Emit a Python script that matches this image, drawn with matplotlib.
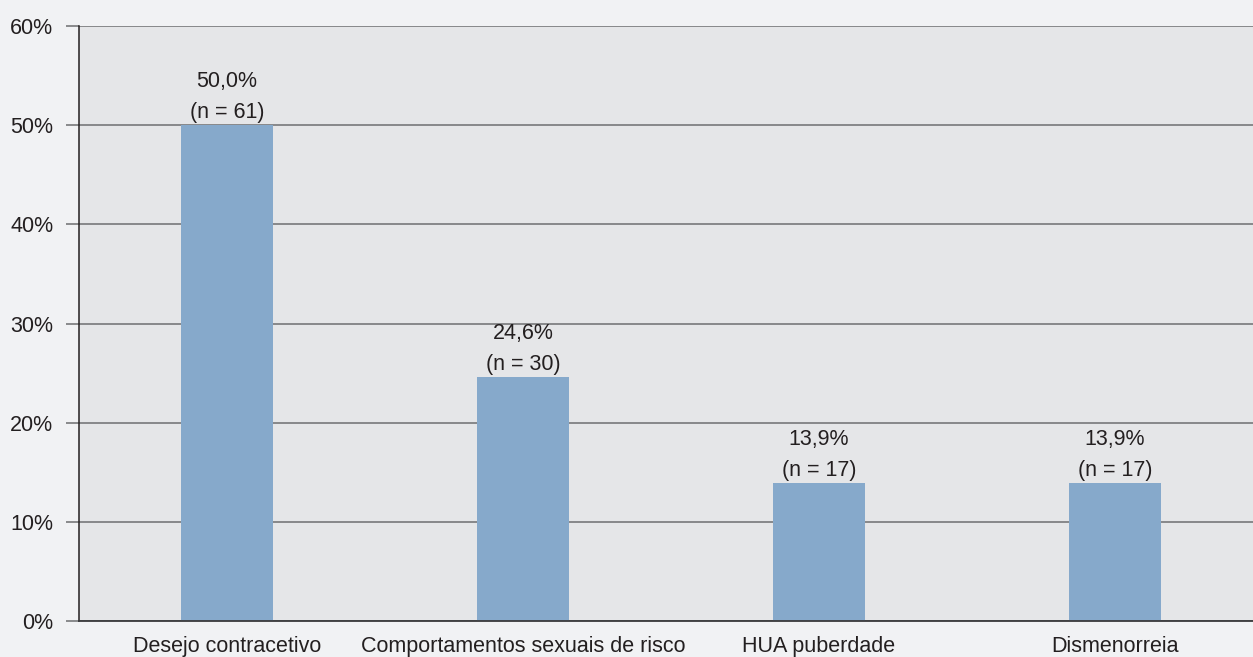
import matplotlib
matplotlib.use("Agg")
import matplotlib.pyplot as plt
from matplotlib.ticker import FuncFormatter

categories = ["Desejo contracetivo", "Comportamentos sexuais de risco",
              "HUA puberdade", "Dismenorreia"]
percentages = [50.0, 24.6, 13.9, 13.9]
counts = [61, 30, 17, 17]
yticks = [0, 10, 20, 30, 40, 50, 60]

plt.rcParams['font.family'] = ['Liberation Sans', 'DejaVu Sans']
FS = 15.5

W, H, DPI = 1253, 657, 100
fig = plt.figure(figsize=(W / DPI, H / DPI), dpi=DPI, facecolor="#f1f2f4")
left, right, bottom, top = 79, 1263, 657 - 621, 657 - 26
ax = fig.add_axes([left / W, bottom / H, (right - left) / W, (top - bottom) / H])
ax.set_facecolor("#e5e6e8")

x = range(len(categories))
ax.bar(x, percentages, width=0.31, color="#86a9cb", zorder=3)

for xi, p, n in zip(x, percentages, counts):
    label = f"{p:.1f}".replace(".", ",") + f"%\n(n = {n})"
    ax.annotate(label, (xi, p), xytext=(0, 1.5), textcoords="offset points",
                ha="center", va="bottom", fontsize=FS, color="#231f20",
                linespacing=1.6, zorder=4)

ax.set_xlim(-0.5, len(categories) - 0.5)
ax.set_ylim(0, 60)
ax.set_yticks(yticks)
ax.yaxis.set_major_formatter(FuncFormatter(lambda v, _: f"{v:.0f}%"))
ax.set_xticks(list(x))
ax.set_xticklabels(categories)

ax.grid(axis="y", color="#6d6e70", linewidth=1.1, zorder=1)
ax.tick_params(axis="y", length=9.5, width=1.1, color="#6d6e70",
               labelsize=FS, labelcolor="#231f20", pad=9)
ax.tick_params(axis="x", length=0, labelsize=FS, labelcolor="#231f20", pad=11)

for s in ("top", "right"):
    ax.spines[s].set_visible(False)
ax.spines["left"].set_color("#231f20")
ax.spines["left"].set_linewidth(1.1)
ax.spines["bottom"].set_color("#3a3a3c")
ax.spines["bottom"].set_linewidth(1.3)
ax.spines["left"].set_zorder(5)
ax.spines["bottom"].set_zorder(5)

fig.savefig("out.png", dpi=DPI, facecolor=fig.get_facecolor())
